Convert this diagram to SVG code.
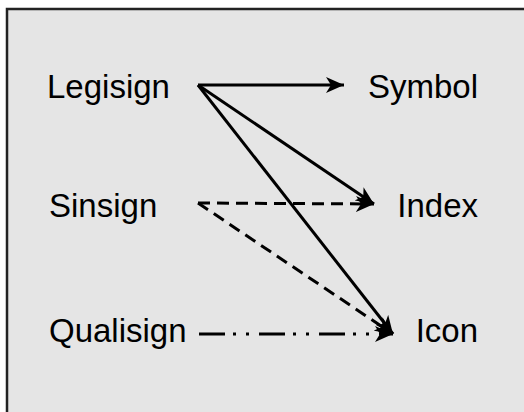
<svg xmlns="http://www.w3.org/2000/svg" width="524" height="412" viewBox="0 0 524 412">
<style>
.lbl{font-family:"Liberation Sans",Arial,sans-serif;font-size:33px;fill:#000}
.c{fill:none;stroke:#000;stroke-width:3}
.dash{stroke-dasharray:12 7}
.dd{stroke-dasharray:26 8 3 10 3 10}
</style>
<defs>
<marker id="arr" markerUnits="userSpaceOnUse" markerWidth="19" markerHeight="17" refX="18" refY="8" orient="auto" viewBox="0 0 19 16">
<path d="M0,0 L18,8 L0,16 L5,8 Z" fill="#000"/>
</marker>
</defs>
<rect x="7" y="9" width="520" height="410" fill="#e5e5e5"/>
<path d="M7,412 V9 H524" fill="none" stroke="#222" stroke-width="2.5"/>
<g id="legisign"><text class="lbl" x="47" y="98">Legisign</text></g>
<g id="sinsign"><text class="lbl" x="49" y="217">Sinsign</text></g>
<g id="qualisign"><text class="lbl" x="49" y="342">Qualisign</text></g>
<g id="symbol"><text class="lbl" x="478" y="98" text-anchor="end">Symbol</text></g>
<g id="index"><text class="lbl" x="478" y="217" text-anchor="end">Index</text></g>
<g id="icon"><text class="lbl" x="478" y="342" text-anchor="end">Icon</text></g>
<g id="connectors">
<line class="c" x1="198" y1="85" x2="344" y2="85" marker-end="url(#arr)"/>
<line class="c" x1="198" y1="85" x2="374" y2="204" marker-end="url(#arr)"/>
<line class="c" x1="198" y1="85" x2="393" y2="334" marker-end="url(#arr)"/>
<line class="c dash" x1="198" y1="203" x2="374" y2="204" marker-end="url(#arr)"/>
<line class="c dash" x1="198" y1="203" x2="393" y2="334" marker-end="url(#arr)"/>
<line class="c dd" x1="199" y1="334" x2="393" y2="334" marker-end="url(#arr)"/>
</g>
</svg>
